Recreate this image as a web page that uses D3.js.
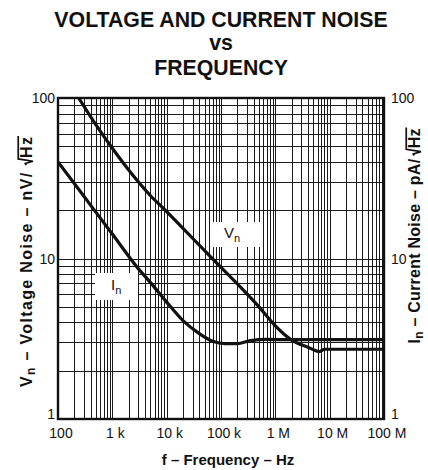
<!DOCTYPE html>
<html><head><meta charset="utf-8">
<script src="https://cdn.jsdelivr.net/npm/d3@7"></script>
<style>
html,body{margin:0;padding:0;background:#fff;}
svg text{font-family:"Liberation Sans",Arial,Helvetica,sans-serif;fill:#111;}
</style></head>
<body>
<svg id="chart" width="428" height="470"></svg>
<script>
// ---- data ----
const titleLines = ["VOLTAGE AND CURRENT NOISE", "vs", "FREQUENCY"];
const freqTicks = [100, 1e3, 1e4, 1e5, 1e6, 1e7, 1e8];
const freqTickLabels = ["100", "1 k", "10 k", "100 k", "1 M", "10 M", "100 M"];
const noiseTicks = [1, 10, 100];
const noiseTickLabels = ["1", "10", "100"];

const vnFreq  = [240, 500, 1000, 2000, 5000, 10000, 20000, 50000, 100000, 200000, 500000, 1e6, 2e6, 4e6, 6.5e6, 8e6, 2e7, 1e8];
const vnValue = [100, 68, 48.6, 35.6, 24.7, 19.6, 15.4, 11.2, 8.8, 6.95, 5.0, 3.8, 3.1, 2.8, 2.63, 2.72, 2.72, 2.72];

const inFreq  = [100, 300, 1000, 3000, 5000, 10000, 20000, 40000, 70000, 120000, 200000, 350000, 700000, 2e6, 1e7, 1e8];
const inValue = [40, 24.4, 14.2, 8.65, 7.1, 5.35, 4.1, 3.4, 3.05, 2.95, 2.95, 3.08, 3.13, 3.12, 3.12, 3.12];

// ---- layout ----
const svg = d3.select("#chart");
const L = 58, R = 384, T = 98, B = 419;
const x = d3.scaleLog().domain([100, 1e8]).range([L, R]);
const y = d3.scaleLog().domain([1, 100]).range([B, T]);

// title
svg.selectAll("text.title").data(titleLines).join("text")
  .attr("class", "title")
  .attr("x", 221).attr("y", (d, i) => [27, 50, 75][i])
  .attr("text-anchor", "middle")
  .style("font-size", "21.3px").style("font-weight", "bold")
  .text(d => d);

// grid
const grid = svg.append("g").attr("stroke", "#1a1a1a").attr("stroke-width", 1);
grid.selectAll("line.vx").data(x.ticks()).join("line")
  .attr("x1", d => Math.round(x(d)) + 0.5).attr("x2", d => Math.round(x(d)) + 0.5)
  .attr("y1", T).attr("y2", B);
grid.selectAll("line.hy").data(y.ticks()).join("line")
  .attr("y1", d => Math.round(y(d)) + 0.5).attr("y2", d => Math.round(y(d)) + 0.5)
  .attr("x1", L).attr("x2", R);

// label boxes (white) over grid
const labels = [
  {box: [212, 222, 48, 25], tx: 224, ty: 238, main: "V", sub: "n"},
  {box: [95, 273, 43, 27], tx: 111, ty: 290, main: "I", sub: "n"}
];
svg.selectAll("rect.lbl").data(labels).join("rect")
  .attr("x", d => d.box[0]).attr("y", d => d.box[1])
  .attr("width", d => d.box[2]).attr("height", d => d.box[3])
  .attr("fill", "#fff");

// curves
const clip = svg.append("clipPath").attr("id", "plotclip")
  .append("rect").attr("x", L).attr("y", T).attr("width", R - L).attr("height", B - T);
const line = d3.line().x(d => x(d[0])).y(d => y(d[1])).curve(d3.curveMonotoneX);
const curves = svg.append("g").attr("clip-path", "url(#plotclip)");
curves.append("path").datum(d3.zip(vnFreq, vnValue))
  .attr("d", line).attr("fill", "none").attr("stroke", "#111").attr("stroke-width", 3.2);
curves.append("path").datum(d3.zip(inFreq, inValue))
  .attr("d", line).attr("fill", "none").attr("stroke", "#111").attr("stroke-width", 3.2);

// frame
svg.append("rect").attr("x", L).attr("y", T).attr("width", R - L).attr("height", B - T)
  .attr("fill", "none").attr("stroke", "#111").attr("stroke-width", 2.4);

// curve labels
labels.forEach(d => {
  const t = svg.append("text").attr("x", d.tx).attr("y", d.ty).style("font-size", "15px");
  t.append("tspan").text(d.main);
  t.append("tspan").attr("dy", 4).style("font-size", "11px").text(d.sub);
});

// x tick labels
svg.selectAll("text.xt").data(freqTicks).join("text")
  .attr("class", "xt")
  .attr("x", d => x(d) + 3).attr("y", 438)
  .attr("text-anchor", "middle").style("font-size", "14px")
  .text((d, i) => freqTickLabels[i]);

// y tick labels
const yBase = [419, 264, 103];
svg.selectAll("text.yl").data(noiseTicks).join("text")
  .attr("class", "yl").attr("x", 55).attr("y", (d, i) => yBase[i])
  .attr("text-anchor", "end").style("font-size", "14px")
  .text((d, i) => noiseTickLabels[i]);
svg.selectAll("text.yr").data(noiseTicks).join("text")
  .attr("class", "yr").attr("x", 391).attr("y", (d, i) => yBase[i])
  .attr("text-anchor", "start").style("font-size", "14px")
  .text((d, i) => noiseTickLabels[i]);

// x axis title
svg.append("text").attr("x", 228).attr("y", 465).attr("text-anchor", "middle")
  .style("font-size", "15px").style("font-weight", "bold")
  .text("f \u2013 Frequency \u2013 Hz");

// rotated axis titles with radical
function axisTitle(cx, cy, sym, mid, unit, fs, len) {
  const g = svg.append("g").attr("transform", `translate(${cx},${cy}) rotate(-90)`);
  const t = g.append("text").attr("text-anchor", "middle")
    .style("font-size", fs + "px").style("font-weight", "bold");
  t.append("tspan").text(sym);
  t.append("tspan").attr("dy", 3).style("font-size", (fs * 0.75) + "px").text("n");
  t.append("tspan").attr("dy", -3).text(" \u2013 " + mid + " \u2013 " + unit + "\u2009\u2009\u2009Hz");
  if (len) t.attr("textLength", len).attr("lengthAdjust", "spacing");
  const full = t.text();
  const iH = full.lastIndexOf("H");
  const iz = full.length - 1;
  const eH = t.node().getExtentOfChar(iH);
  const ez = t.node().getExtentOfChar(iz);
  const top = -fs * 0.86, base = 0;
  const x0 = eH.x - fs * 0.45;
  g.append("path")
    .attr("d", `M${x0},${-fs * 0.36} L${x0 + fs * 0.1},${-fs * 0.42} L${x0 + fs * 0.24},${base + 1} L${eH.x - 1},${top} L${ez.x + ez.width + 1},${top}`)
    .attr("fill", "none").attr("stroke", "#111").attr("stroke-width", 1.7);
}
axisTitle(32, 262, "V", "Voltage Noise", "nV/", 16, 250);
axisTitle(420, 236, "I", "Current Noise", "pA/", 16, 215);
</script>
</body></html>
